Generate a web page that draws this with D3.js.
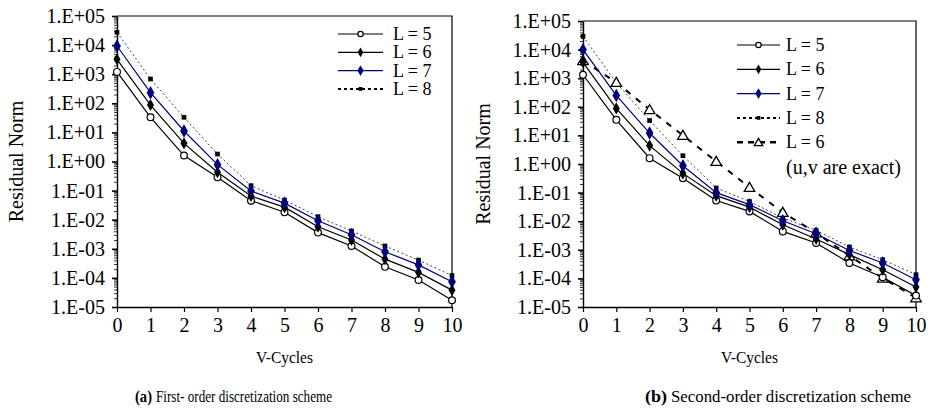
<!DOCTYPE html>
<html>
<head>
<meta charset="utf-8">
<script src="https://cdn.jsdelivr.net/npm/d3@7"></script>
<style>
  html, body { margin: 0; padding: 0; background: #fff; }
  svg { display: block; }
  svg text { font-family: "Liberation Serif", "Times New Roman", serif; fill: #000; }
</style>
</head>
<body>
<svg id="fig" width="932" height="410"></svg>
<script>
// V-cycle index on the horizontal axis
const vCycles = [0, 1, 2, 3, 4, 5, 6, 7, 8, 9, 10];

// Decade tick labels on the residual axis
const yTickLabels = ["1.E-05", "1.E-04", "1.E-03", "1.E-02", "1.E-01", "1.E+00",
                     "1.E+01", "1.E+02", "1.E+03", "1.E+04", "1.E+05"];

// (a) First-order discretization: residual norm per V-cycle
const firstL5 = [1.2e3, 33, 1.6, 0.29, 0.045, 0.018, 3.6e-3, 1.25e-3, 2.4e-4, 8.5e-5, 1.7e-5];
const firstL6 = [3.25e3, 87, 4.2, 0.43, 0.065, 0.027, 5.7e-3, 2.0e-3, 4.4e-4, 1.55e-4, 3.8e-5];
const firstL7 = [9.3e3, 232, 11.2, 0.78, 0.097, 0.037, 9.2e-3, 3.05e-3, 7.9e-4, 2.8e-4, 7.4e-5];
const firstL8 = [2.75e4, 684, 33, 1.8, 0.148, 0.0475, 0.0127, 4.1e-3, 1.25e-3, 4.1e-4, 1.2e-4];

// (b) Second-order discretization: residual norm per V-cycle
const secondL5 = [1.32e3, 35, 1.6, 0.32, 0.053, 0.022, 4.4e-3, 1.73e-3, 3.45e-4, 1.1e-4, 2.5e-5];
const secondL6 = [3.6e3, 88, 4.4, 0.47, 0.078, 0.031, 7.5e-3, 2.4e-3, 6.8e-4, 2.0e-4, 5.0e-5];
const secondL7 = [1.0e4, 250, 12.1, 0.87, 0.10, 0.038, 0.0104, 3.65e-3, 9.5e-4, 3.45e-4, 9.0e-5];
const secondL8 = [2.9e4, 700, 33, 1.95, 0.145, 0.049, 0.013, 4.8e-3, 1.25e-3, 4.5e-4, 1.35e-4];
const secondL6Exact = [4.1e3, 713, 80, 10, 1.23, 0.152, 0.0203, 3.9e-3, 6.2e-4, 1.03e-4, 2.1e-5];

// Series labels
const seriesNames = ["L = 5", "L = 6", "L = 7", "L = 8", "L = 6"];
const exactNote = "(u,v are exact)";

// Visual style per series kind
const styles = {
  L5:    { stroke: "#000", width: 1.2, dash: null, marker: "circle" },
  L6:    { stroke: "#000", width: 1.2, dash: null, marker: "diamond" },
  L7:    { stroke: "#00007a", width: 1.2, dash: null, marker: "diamondBlue" },
  L8:    { stroke: "#444", width: 1, dash: "2,2.5", marker: "square",
           legendStroke: "#000", legendWidth: 2, legendDash: "3,3" },
  L6x:   { stroke: "#000", width: 2, dash: "6,7", marker: "triangle",
           legendStroke: "#000", legendWidth: 2.6, legendDash: "6,5" }
};

const svg = d3.select("#fig");
const SERIF = '"Liberation Serif", "Times New Roman", serif';

function drawMarker(g, kind, x, y, small) {
  const k = small ? 0.8 : 1;
  if (kind === "circle") {
    g.append("circle").attr("cx", x).attr("cy", y).attr("r", 3.4 * k)
      .attr("fill", "#fff").attr("stroke", "#000").attr("stroke-width", 1.2);
  } else if (kind === "diamond") {
    g.append("path").attr("transform", `translate(${x},${y})`)
      .attr("d", d3.symbol(d3.symbolDiamond, 42 * k * k)()).attr("fill", "#000");
  } else if (kind === "diamondBlue") {
    g.append("path").attr("transform", `translate(${x},${y})`)
      .attr("d", d3.symbol(d3.symbolDiamond, 52 * k * k)()).attr("fill", "#00007a");
  } else if (kind === "square") {
    g.append("path").attr("transform", `translate(${x},${y})`)
      .attr("d", d3.symbol(d3.symbolSquare, 22 * k * k)()).attr("fill", "#000");
  } else if (kind === "triangle") {
    g.append("path").attr("transform", `translate(${x},${y + 1})`)
      .attr("d", d3.symbol(d3.symbolTriangle, 48 * k * k)())
      .attr("fill", "#fff").attr("stroke", "#000").attr("stroke-width", 1.3);
  }
}

function panel(opts) {
  const { left, right, top, bottom, series, legend } = opts;
  const g = svg.append("g");

  const x = d3.scaleLinear().domain([0, 10]).range([left, right]);
  const y = d3.scaleLog().domain([1e-5, 1e5]).range([bottom, top]);

  const decadeValues = yTickLabels.map((_, i) => Math.pow(10, i - 5));
  const minorValues = [];
  for (let e = -5; e < 5; e++) for (let m = 2; m <= 9; m++) minorValues.push(m * Math.pow(10, e));

  // frame: top and right edges
  g.append("path")
    .attr("d", `M${left},${top}H${right}V${bottom}`)
    .attr("fill", "none").attr("stroke", "#000").attr("stroke-width", 1.2);

  // minor log ticks
  const minorAxis = g.append("g").attr("transform", `translate(${left},0)`)
    .call(d3.axisLeft(y).tickValues(minorValues).tickSize(3).tickFormat(""));
  minorAxis.select(".domain").remove();
  minorAxis.selectAll("line").attr("stroke", "#000").attr("stroke-width", 0.8);

  // major y axis
  const yAxis = g.append("g").attr("transform", `translate(${left},0)`)
    .call(d3.axisLeft(y).tickValues(decadeValues).tickSize(5).tickSizeOuter(0)
      .tickPadding(7).tickFormat((d, i) => yTickLabels[i]));
  yAxis.attr("font-family", SERIF);
  yAxis.select(".domain").attr("stroke-width", 1.4);
  yAxis.selectAll("line").attr("stroke-width", 1.6);
  yAxis.selectAll("text").style("font-size", "20px").style("font-family", SERIF);

  // x axis
  const xAxis = g.append("g").attr("transform", `translate(0,${bottom})`)
    .call(d3.axisBottom(x).tickValues(vCycles).tickSize(5).tickSizeOuter(0)
      .tickPadding(6).tickFormat(d3.format("d")));
  xAxis.attr("font-family", SERIF);
  xAxis.select(".domain").attr("stroke-width", 1.4);
  xAxis.selectAll("line").attr("stroke-width", 1.2);
  xAxis.selectAll("text").style("font-size", "20px").style("font-family", SERIF);

  // axis titles
  g.append("text")
    .attr("transform", `translate(${opts.yTitleX},${(top + bottom) / 2}) rotate(-90)`)
    .attr("text-anchor", "middle").attr("dominant-baseline", "middle")
    .style("font-size", "20px").text("Residual Norm");
  g.append("text")
    .attr("x", (left + right) / 2).attr("y", 363)
    .attr("text-anchor", "middle").style("font-size", "17px")
    .attr("textLength", 57).attr("lengthAdjust", "spacingAndGlyphs")
    .text("V-Cycles");

  // series lines then markers
  const line = d3.line().x((d, i) => x(vCycles[i])).y(d => y(d));
  series.forEach(s => {
    const st = styles[s.style];
    g.append("path").datum(s.values)
      .attr("d", line).attr("fill", "none")
      .attr("stroke", st.stroke).attr("stroke-width", st.width)
      .attr("stroke-dasharray", st.dash);
  });
  series.forEach(s => {
    const st = styles[s.style];
    s.values.forEach((v, i) => drawMarker(g, st.marker, x(vCycles[i]), y(v), false));
  });

  // legend
  const lg = g.append("g");
  legend.rows.forEach((row, i) => {
    const st = styles[row.style];
    const cy = legend.y0 + i * legend.dy;
    lg.append("line")
      .attr("x1", legend.x0).attr("x2", legend.x1).attr("y1", cy).attr("y2", cy)
      .attr("stroke", st.legendStroke || st.stroke)
      .attr("stroke-width", st.legendWidth || st.width)
      .attr("stroke-dasharray", st.legendDash || null);
    drawMarker(lg, st.marker, (legend.x0 + legend.x1) / 2, cy, true);
    lg.append("text").attr("x", legend.tx).attr("y", cy)
      .attr("dominant-baseline", "central").style("font-size", "18px").text(row.name);
  });
  if (legend.note) {
    lg.append("text").attr("x", legend.tx)
      .attr("y", legend.y0 + legend.rows.length * legend.dy)
      .attr("dominant-baseline", "central").style("font-size", "20px").text(legend.note);
  }
}

panel({
  left: 117, right: 452, top: 16, bottom: 307, yTitleX: 18,
  series: [
    { values: firstL8, style: "L8" },
    { values: firstL5, style: "L5" },
    { values: firstL6, style: "L6" },
    { values: firstL7, style: "L7" }
  ],
  legend: {
    x0: 338, x1: 383, tx: 393, y0: 34, dy: 18.3,
    rows: [
      { name: seriesNames[0], style: "L5" },
      { name: seriesNames[1], style: "L6" },
      { name: seriesNames[2], style: "L7" },
      { name: seriesNames[3], style: "L8" }
    ]
  }
});

panel({
  left: 583, right: 916, top: 21, bottom: 307, yTitleX: 485,
  series: [
    { values: secondL8, style: "L8" },
    { values: secondL6Exact, style: "L6x" },
    { values: secondL5, style: "L5" },
    { values: secondL6, style: "L6" },
    { values: secondL7, style: "L7" }
  ],
  legend: {
    x0: 737, x1: 780, tx: 786, y0: 45, dy: 24.3,
    rows: [
      { name: seriesNames[0], style: "L5" },
      { name: seriesNames[1], style: "L6" },
      { name: seriesNames[2], style: "L7" },
      { name: seriesNames[3], style: "L8" },
      { name: seriesNames[4], style: "L6x" }
    ],
    note: exactNote
  }
});

// Sub-figure captions: bold panel tag followed by the description
const captions = [
  { x: 135, tagWidth: 17, width: 176, tag: "(a)", text: "First- order discretization scheme" },
  { x: 645, tagWidth: 22, width: 240, tag: "(b)", text: "Second-order discretization scheme" }
];
captions.forEach(c => {
  svg.append("text").attr("x", c.x).attr("y", 402)
    .style("font-size", "16px").style("font-weight", "bold")
    .attr("textLength", c.tagWidth).attr("lengthAdjust", "spacingAndGlyphs")
    .text(c.tag);
  svg.append("text").attr("x", c.x + c.tagWidth + 4).attr("y", 402)
    .style("font-size", "16px")
    .attr("textLength", c.width).attr("lengthAdjust", "spacingAndGlyphs")
    .text(c.text);
});
</script>
</body>
</html>
